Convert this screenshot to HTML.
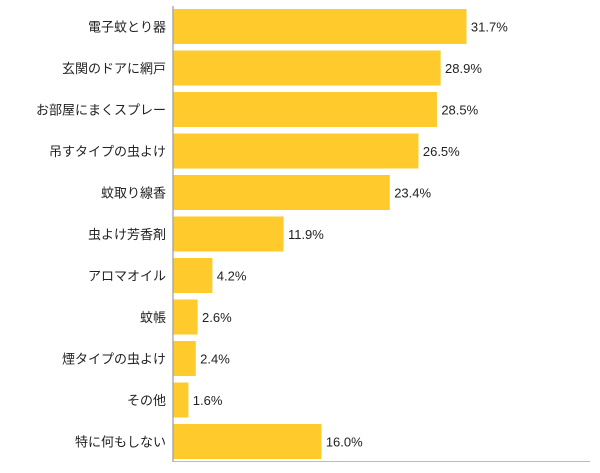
<!DOCTYPE html>
<html><head><meta charset="utf-8"><style>
body{margin:0;background:#fff;}
text{font-family:"Liberation Sans","Noto Sans CJK JP",sans-serif;font-size:13px;fill:#222;}
</style></head><body>
<svg width="600" height="468">
<g id="bars"></g>
<line x1="173" y1="6" x2="173" y2="462" stroke="#999" stroke-width="1.2"/>
<line x1="173" y1="461.5" x2="590" y2="461.5" stroke="#bbb" stroke-width="1"/>
</svg>
<script>
const categories=["電子蚊とり器","玄関のドアに網戸","お部屋にまくスプレー","吊すタイプの虫よけ","蚊取り線香","虫よけ芳香剤","アロマオイル","蚊帳","煙タイプの虫よけ","その他","特に何もしない"];
const values=[31.7,28.9,28.5,26.5,23.4,11.9,4.2,2.6,2.4,1.6,16.0];
const g=document.getElementById('bars');
const ns='http://www.w3.org/2000/svg';
const x0=173, scale=9.24, top0=9, pitch=41.5, bh=35;
const xs=v=>v*scale;
categories.forEach((c,i)=>{
  const y=top0+i*pitch;
  const r=document.createElementNS(ns,'rect');
  r.setAttribute('x',x0+0.6);r.setAttribute('y',y);
  r.setAttribute('width',xs(values[i]));r.setAttribute('height',bh);
  r.setAttribute('fill','#FFCA2C');
  
  
  g.appendChild(r);
  const l=document.createElementNS(ns,'text');
  l.setAttribute('x',166);l.setAttribute('y',y+bh/2+5);
  l.setAttribute('text-anchor','end');l.textContent=c;
  
  
  g.appendChild(l);
  const t=document.createElementNS(ns,'text');
  t.setAttribute('x',x0+xs(values[i])+5);t.setAttribute('y',y+bh/2+5);
  t.textContent=values[i].toFixed(1)+'%';
  
  
  g.appendChild(t);
});
</script>
</body></html>
